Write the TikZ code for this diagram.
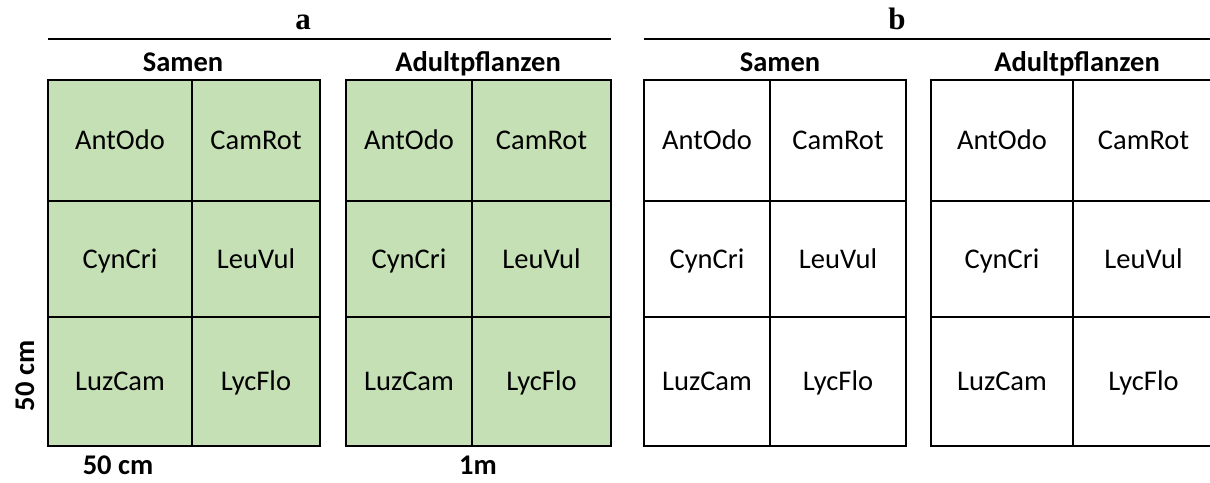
\documentclass[tikz,border=0pt]{standalone}
\usepackage{fontspec}
\setmainfont{Carlito}
\newfontfamily\panelfont{Liberation Serif}

\definecolor{plotgreen}{RGB}{197,224,180}

\tikzset{
  species/.style={font=\fontsize{28.5}{34}\selectfont, text height=18.5pt, text depth=0pt},
  heading/.style={font=\fontsize{28.5}{34}\selectfont\bfseries, text height=18.5pt, text depth=0pt},
  panel/.style={font=\fontsize{31}{36}\selectfont\panelfont\bfseries, anchor=base},
  gridline/.style={line width=2pt},
}

% one plot of 2x3 cells: prefix, left x, middle x, right x, fill
\newcommand{\plotgrid}[5]{
  \filldraw[gridline, fill=#5] (#2,80) rectangle (#4,446);
  \draw[gridline] (#3,80) -- (#3,446) (#2,201) -- (#4,201) (#2,317) -- (#4,317);
  \node[species] (#1-antodo) at ({(#2+#3)/2},140.5) {AntOdo};
  \node[species] (#1-camrot) at ({(#3+#4)/2},140.5) {CamRot};
  \node[species] (#1-cyncri) at ({(#2+#3)/2},259) {CynCri};
  \node[species] (#1-leuvul) at ({(#3+#4)/2},259) {LeuVul};
  \node[species] (#1-luzcam) at ({(#2+#3)/2},381.5) {LuzCam};
  \node[species] (#1-lycflo) at ({(#3+#4)/2},381.5) {LycFlo};
}

\begin{document}
\begin{tikzpicture}[x=1pt, y=-1pt]

\useasboundingbox (0,0) rectangle (1210,482);

% panel titles and rules
\node[panel] (title-a) at (303,29) {a};
\node[panel] (title-b) at (897,29) {b};
\draw[gridline] (48,39) -- (611,39);
\draw[gridline] (644,39) -- (1212,39);

% plot headings
\node[heading] (head-as) at (183,62.5) {Samen};
\node[heading] (head-aa) at (478,62.5) {Adultpflanzen};
\node[heading] (head-bs) at (780,62.5) {Samen};
\node[heading] (head-ba) at (1077,62.5) {Adultpflanzen};

% the four plots
\plotgrid{as}{48}{192}{320}{plotgreen}
\plotgrid{aa}{346}{472}{611}{plotgreen}
\plotgrid{bs}{644}{770}{906}{white}
\plotgrid{ba}{931}{1073}{1214}{white}

% scale labels
\node[heading, rotate=90] (size-v) at (25,376) {50 cm};
\node[heading] (size-h) at (118,465) {50 cm};
\node[heading] (size-m) at (478,465) {1m};

\end{tikzpicture}
\end{document}
